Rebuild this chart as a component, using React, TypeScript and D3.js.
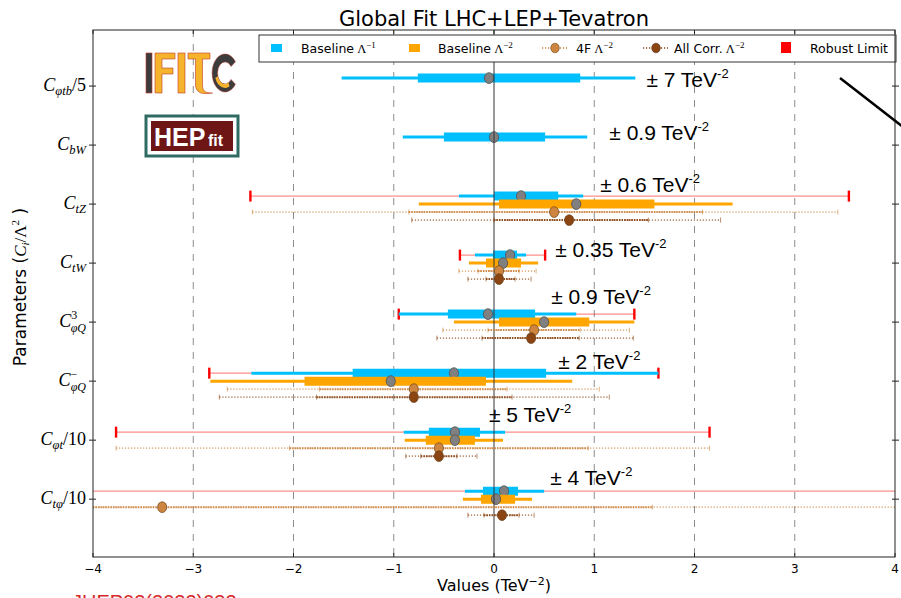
import React from "react";
import * as d3 from "d3";

const W = 901;
const H = 598;

// Operator labels: C with subscript / superscript and an optional rescaling tail
const labelSub = ["φtb", "bW", "tZ", "tW", "φQ", "φQ", "φt", "tφ"];
const labelSup = ["", "", "", "", "3", "−", "", ""];
const labelTail = ["/5", "", "", "", "", "", "/10", "/10"];

// Baseline Λ^-1 fit (mean, 68% and 95% intervals)
const linMean = [-0.05, 0.0, 0.27, 0.16, -0.06, -0.4, -0.39, 0.1];
const linLo68 = [-0.76, -0.5, 0.0, -0.01, -0.46, -1.41, -0.65, -0.11];
const linHi68 = [0.86, 0.51, 0.64, 0.23, 0.41, 0.52, -0.14, 0.24];
const linLo95 = [-1.52, -0.91, -0.35, -0.19, -0.95, -2.42, -0.9, -0.29];
const linHi95 = [1.41, 0.93, 0.89, 0.32, 0.82, 1.64, 0.11, 0.5];

// Baseline Λ^-2 fit
const quadMean = [null, null, 0.82, 0.09, 0.5, -1.03, -0.39, 0.02];
const quadLo68 = [null, null, 0.05, -0.08, 0.05, -1.89, -0.68, -0.13];
const quadHi68 = [null, null, 1.6, 0.27, 0.95, -0.08, -0.19, 0.21];
const quadLo95 = [null, null, -0.75, -0.25, -0.4, -2.83, -0.89, -0.31];
const quadHi95 = [null, null, 2.38, 0.44, 1.4, 0.78, 0.09, 0.38];

// 4F Λ^-2 fit
const fourFMean = [null, null, 0.6, 0.05, 0.4, -0.8, -0.55, -3.31];
const fourFLo68 = [null, null, -0.85, -0.16, -0.06, -1.74, -2.04, -4.6];
const fourFHi68 = [null, null, 2.08, 0.25, 0.86, 0.13, 0.94, 1.58];
const fourFLo95 = [null, null, -2.41, -0.35, -0.51, -2.66, -3.77, -5.5];
const fourFHi95 = [null, null, 3.43, 0.42, 1.35, 1.05, 2.15, 5.5];

// All correlations Λ^-2 fit
const corrMean = [null, null, 0.75, 0.05, 0.37, -0.8, -0.55, 0.08];
const corrLo68 = [null, null, 0.0, -0.08, -0.12, -1.77, -0.73, -0.1];
const corrHi68 = [null, null, 1.54, 0.21, 0.85, 0.18, -0.37, 0.25];
const corrLo95 = [null, null, -0.82, -0.26, -0.57, -2.74, -0.88, -0.26];
const corrHi95 = [null, null, 2.26, 0.37, 1.39, 1.15, -0.17, 0.4];

// Robust limits
const robustLo = [null, null, -2.43, -0.34, -0.95, -2.84, -3.77, -6.0];
const robustHi = [null, null, 3.54, 0.51, 1.4, 1.64, 2.15, 6.0];

// Rescaling annotations next to each row
const boundText = ["7", "0.9", "0.6", "0.35", "0.9", "2", "5", "4"];
const boundX = [1.52, 1.15, 1.06, 0.61, 0.57, 0.64, -0.05, 0.56];
const boundDy = [-6, -12, -19, -13, -25, -19, -25, -21];

const xTicks = [-4, -3, -2, -1, 0, 1, 2, 3, 4];

const C_LIN = "#00bfff";
const C_QUAD = "#ffa500";
const C_4F = "#cd853f";
const C_CORR = "#8b4513";
const C_RED = "#ff0000";

const PL = 93, PR = 895, PT = 30, PB = 557;

const x = d3.scaleLinear().domain([-4, 4]).range([PL, PR]);
const y = d3.scaleLinear().domain([-0.95, 7.98]).range([PT, PB]);

const OFF_LIN = -8, OFF_QUAD = 0, OFF_4F = 8, OFF_CORR = 16;

const fmtTick = (v: number) => (v < 0 ? "\u2212" + Math.abs(v) : String(v));

function BandRow({ i, mean, lo68, hi68, lo95, hi95, color, off }: any) {
  if (mean[i] == null) return null;
  const yy = y(i) + off;
  return (
    <g>
      <line x1={x(lo95[i])} x2={x(hi95[i])} y1={yy} y2={yy} stroke={color} strokeWidth={3} />
      <line x1={x(lo68[i])} x2={x(hi68[i])} y1={yy} y2={yy} stroke={color} strokeWidth={9} />
      <ellipse cx={x(mean[i])} cy={yy} rx={4.6} ry={5.4} fill="#808080" stroke="#505050" strokeWidth={0.8} />
    </g>
  );
}

function DotRow({ i, mean, lo68, hi68, lo95, hi95, color, off }: any) {
  if (mean[i] == null) return null;
  const yy = y(i) + off;
  const caps = [lo95[i], hi95[i], lo68[i], hi68[i]];
  return (
    <g>
      <line x1={x(lo95[i])} x2={x(hi95[i])} y1={yy} y2={yy} stroke={color} strokeWidth={1.6} strokeDasharray="1.2,1.8" opacity={0.6} />
      <line x1={x(lo68[i])} x2={x(hi68[i])} y1={yy} y2={yy} stroke={color} strokeWidth={2} strokeDasharray="1.5,1" opacity={0.9} />
      {caps.map((c, k) => (
        <line key={k} x1={x(c)} x2={x(c)} y1={yy - 2.5} y2={yy + 2.5} stroke={color} strokeWidth={1} opacity={0.6} />
      ))}
      <ellipse cx={x(mean[i])} cy={yy} rx={4.6} ry={5.4} fill={color} stroke="#5a3510" strokeWidth={0.6} />
    </g>
  );
}

function YLabel({ i }: { i: number }) {
  const yy = y(i) + 5;
  const sup = labelSup[i];
  const tail = labelTail[i];
  return (
    <text x={86} y={yy} textAnchor="end" fontFamily="'Liberation Serif', serif" fontStyle="italic" fontSize={18} fill="#000">
      C
      {sup ? (
        <>
          <tspan dy={-8} fontSize={12} fontStyle="normal">{sup}</tspan>
          <tspan dx={-6.5} dy={13} fontSize={12}>{labelSub[i]}</tspan>
        </>
      ) : (
        <tspan dy={4} fontSize={12.5}>{labelSub[i]}</tspan>
      )}
      {tail ? <tspan dy={-4} fontStyle="normal">{tail}</tspan> : null}
    </text>
  );
}

function IficLogo() {
  const yel = "#f6b42c";
  const edge = "#c0392b";
  const dark = "#3c3c3c";
  const ring = d3.arc()({ innerRadius: 11, outerRadius: 19, startAngle: 0.7 * Math.PI, endAngle: 2.3 * Math.PI } as any) as string;
  const cres = d3.arc()({ innerRadius: 11, outerRadius: 15, startAngle: 0.85 * Math.PI, endAngle: 1.4 * Math.PI } as any) as string;
  return (
    <g>
      <rect x={146} y={53} width={6} height={40} fill={dark} stroke={edge} strokeWidth={0.6} />
      <path d="M155,53 h20 v6 h-13 v9 h11 v6 h-11 v19 h-7 z" fill={yel} stroke={edge} strokeWidth={0.6} />
      <rect x={178} y={53} width={7} height={40} fill={yel} stroke={edge} strokeWidth={0.6} />
      <path d="M188,53 h22 v6 h-7.5 v27 q0,7 8,7 h2 q-16,3 -17,-7 v-27 h-7.5 z" fill={yel} stroke={edge} strokeWidth={0.6} />
      <g transform="translate(225,73) scale(0.68,1)">
        <path d={ring} fill={dark} stroke={edge} strokeWidth={0.6} />
        <path d={cres} fill={yel} />
      </g>
    </g>
  );
}

function HepfitLogo() {
  return (
    <g>
      <rect x={146} y={116} width={92} height={40} fill="#fff" stroke="#2f6b62" strokeWidth={3} />
      <rect x={151} y={121} width={82} height={30} fill="#6e1616" />
      <text x={154} y={146} fill="#fff" fontFamily="'Liberation Sans', Arial, sans-serif" fontWeight="bold" fontSize={25}>HEP</text>
      <text x={208} y={146} fill="#fff" fontFamily="'Liberation Sans', Arial, sans-serif" fontWeight="bold" fontSize={16}>fit</text>
    </g>
  );
}

function Legend() {
  const ty = 53;
  const font = "'DejaVu Sans', sans-serif";
  const lam = (p: string) => (
    <>
      <tspan fontFamily="'Liberation Serif', serif">{" Λ"}</tspan>
      <tspan dy={-5} fontSize={9} fontFamily="'Liberation Serif', serif">{p}</tspan>
    </>
  );
  return (
    <g fontFamily={font} fontSize={12.5} fill="#000">
      <rect x={259} y={35} width={637} height={27} fill="#fff" stroke="#333" strokeWidth={1} />
      <rect x={271} y={44} width={11} height={8} fill={C_LIN} />
      <text x={301} y={ty}>Baseline{lam("−1")}</text>
      <rect x={409} y={44} width={11} height={8} fill={C_QUAD} />
      <text x={438} y={ty}>Baseline{lam("−2")}</text>
      <line x1={542} x2={567} y1={48} y2={48} stroke={C_4F} strokeWidth={1.5} strokeDasharray="1.2,1.8" />
      <ellipse cx={555} cy={48} rx={4.3} ry={4.8} fill={C_4F} stroke="#5a3510" strokeWidth={0.5} />
      <text x={576} y={ty}>4F{lam("−2")}</text>
      <line x1={643} x2={668} y1={48} y2={48} stroke={C_CORR} strokeWidth={1.5} strokeDasharray="1.2,1.8" />
      <ellipse cx={656} cy={48} rx={4.3} ry={4.8} fill={C_CORR} stroke="#3a2008" strokeWidth={0.5} />
      <text x={674} y={ty}>All Corr.{lam("−2")}</text>
      <rect x={781} y={42} width={10} height={11} fill={C_RED} />
      <text x={810} y={ty}>Robust Limit</text>
    </g>
  );
}

export default function App() {
  const rows = d3.range(labelSub.length);
  const grid = xTicks.filter((t) => t !== 0 && t !== -4 && t !== 4);
  return (
    <svg width={W} height={H} viewBox={`0 0 ${W} ${H}`} style={{ position: "absolute", left: 0, top: 0, background: "#fff" }}>
      <defs>
        <clipPath id="plotClip">
          <rect x={PL} y={PT} width={PR - PL} height={PB - PT} />
        </clipPath>
      </defs>
      <rect x={0} y={0} width={W} height={H} fill="#fff" />

      {/* title */}
      <text x={494} y={26} textAnchor="middle" fontFamily="'DejaVu Sans', sans-serif" fontSize={21} fill="#000">
        Global Fit LHC+LEP+Tevatron
      </text>

      {/* dashed vertical grid */}
      {grid.map((t) => (
        <line key={t} x1={x(t)} x2={x(t)} y1={PT} y2={PB} stroke="#8c8c8c" strokeWidth={1} strokeDasharray="7,7" />
      ))}

      <IficLogo />
      <HepfitLogo />

      <g clipPath="url(#plotClip)">
        {/* robust limits */}
        {rows.map((i) =>
          robustLo[i] == null ? null : (
            <g key={"r" + i}>
              <line x1={x(robustLo[i] as number)} x2={x(robustHi[i] as number)} y1={y(i) + OFF_LIN} y2={y(i) + OFF_LIN} stroke={C_RED} strokeOpacity={0.45} strokeWidth={1.3} />
              {[robustLo[i] as number, robustHi[i] as number].map((v, k) => (
                <line key={k} x1={x(v)} x2={x(v)} y1={y(i) + OFF_LIN - 5.5} y2={y(i) + OFF_LIN + 5.5} stroke={C_RED} strokeWidth={2.4} />
              ))}
            </g>
          )
        )}
        {rows.map((i) => (
          <g key={"b" + i}>
            <BandRow i={i} mean={linMean} lo68={linLo68} hi68={linHi68} lo95={linLo95} hi95={linHi95} color={C_LIN} off={OFF_LIN} />
            <BandRow i={i} mean={quadMean} lo68={quadLo68} hi68={quadHi68} lo95={quadLo95} hi95={quadHi95} color={C_QUAD} off={OFF_QUAD} />
          </g>
        ))}
        {/* zero line */}
        <line x1={x(0)} x2={x(0)} y1={PT} y2={PB} stroke="#333" strokeWidth={1} />
        {rows.map((i) => (
          <g key={"d" + i}>
            <DotRow i={i} mean={fourFMean} lo68={fourFLo68} hi68={fourFHi68} lo95={fourFLo95} hi95={fourFHi95} color={C_4F} off={OFF_4F} />
            <DotRow i={i} mean={corrMean} lo68={corrLo68} hi68={corrHi68} lo95={corrLo95} hi95={corrHi95} color={C_CORR} off={OFF_CORR} />
          </g>
        ))}
      </g>

      {/* rescaling annotations */}
      {rows.map((i) => (
        <text key={"t" + i} x={x(boundX[i])} y={y(i) + boundDy[i] + 7} fontFamily="'Liberation Sans', Arial, sans-serif" fontSize={21} fill="#000">
          {"± " + boundText[i] + " TeV"}
          <tspan dy={-9} fontSize={13}>-2</tspan>
        </text>
      ))}

      <Legend />

      {/* frame */}
      <rect x={PL} y={PT} width={PR - PL} height={PB - PT} fill="none" stroke="#222" strokeWidth={1} />

      {/* x ticks */}
      {xTicks.map((t) => (
        <g key={"xt" + t}>
          <line x1={x(t)} x2={x(t)} y1={PB} y2={PB - 4} stroke="#222" />
          <line x1={x(t)} x2={x(t)} y1={PT} y2={PT + 4} stroke="#222" />
          <text x={x(t)} y={573} textAnchor="middle" fontFamily="'DejaVu Sans', sans-serif" fontSize={12} fill="#000">
            {fmtTick(t)}
          </text>
        </g>
      ))}

      {/* y ticks and labels */}
      {rows.map((i) => (
        <g key={"yt" + i}>
          <line x1={PL - 4} x2={PL + 3} y1={y(i)} y2={y(i)} stroke="#222" />
          <line x1={PR - 3} x2={PR + 4} y1={y(i)} y2={y(i)} stroke="#222" />
          <YLabel i={i} />
        </g>
      ))}

      {/* axis titles */}
      <text x={494} y={591} textAnchor="middle" fontFamily="'DejaVu Sans', sans-serif" fontSize={16} fill="#000">
        Values (TeV
        <tspan dy={-6} fontSize={11}>−2</tspan>
        <tspan dy={6}>)</tspan>
      </text>
      <text transform="translate(26,287) rotate(-90)" textAnchor="middle" fontFamily="'DejaVu Sans', sans-serif" fontSize={17} fill="#000">
        Parameters (
        <tspan fontFamily="'Liberation Serif', serif" fontStyle="italic">C</tspan>
        <tspan dy={3} fontSize={11} fontFamily="'Liberation Serif', serif" fontStyle="italic">i</tspan>
        <tspan dy={-3} fontFamily="'Liberation Serif', serif">/Λ</tspan>
        <tspan dy={-7} fontSize={11} fontFamily="'Liberation Serif', serif">2</tspan>
        <tspan dy={7}> )</tspan>
      </text>

      {/* pointer line */}
      <line x1={840} y1={78} x2={903} y2={127} stroke="#000" strokeWidth={2.5} />

      {/* reference tag at the bottom edge */}
      <text x={72} y={609} fontFamily="'Liberation Sans', Arial, sans-serif" fontSize={20} fill="#d62828">
        JHEP02(2022)032
      </text>
    </svg>
  );
}
